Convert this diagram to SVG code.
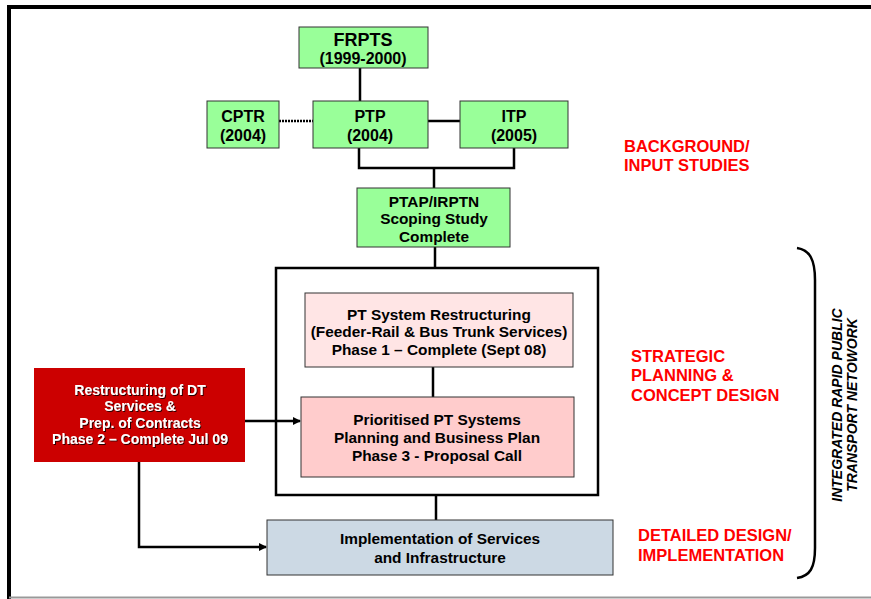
<svg xmlns="http://www.w3.org/2000/svg" width="871" height="599" viewBox="0 0 871 599">
<style>
text{font-family:"Liberation Sans",Arial,sans-serif;font-weight:bold;text-anchor:middle}
.g{fill:#99FF99;stroke:#333;stroke-width:1}
.c{fill:none;stroke:#000;stroke-width:2.5}
.t{font-size:16px;fill:#000}
.s{font-size:15.4px;fill:#000}
.w{font-size:14px;fill:#fff}
.r{font-size:16.5px;fill:#FF0000;text-anchor:start}
.v{font-size:14px;font-style:italic;fill:#000}
</style>
<defs>
<marker id="ah" markerWidth="8" markerHeight="8" refX="7" refY="4" orient="auto" markerUnits="userSpaceOnUse">
<path d="M0,0 L8,4 L0,8 Z" fill="#000"/>
</marker>
<filter id="sh" x="-10%" y="-10%" width="120%" height="130%">
<feDropShadow dx="1" dy="1" stdDeviation="0.4" flood-color="#000" flood-opacity="0.8"/>
</filter>
</defs>
<rect width="871" height="599" fill="#fff"/>
<g id="frame">
<line x1="7" y1="7" x2="871" y2="7" stroke="#000" stroke-width="4"/>
<line x1="9" y1="5" x2="9" y2="599" stroke="#000" stroke-width="4"/>
<line x1="9" y1="597.5" x2="871" y2="597.5" stroke="#999" stroke-width="2"/>
</g>
<g id="connectors">
<line class="c" x1="360" y1="68" x2="360" y2="101"/>
<line x1="279" y1="121" x2="313" y2="121" stroke="#000" stroke-width="2.5" stroke-dasharray="2 1"/>
<line class="c" x1="428" y1="121" x2="460" y2="121"/>
<polyline class="c" points="359,148 359,168 514,168 514,148"/>
<line class="c" x1="434" y1="168" x2="434" y2="188"/>
<line class="c" x1="435" y1="247" x2="435" y2="268"/>
<line class="c" x1="433" y1="367" x2="433" y2="397"/>
<line class="c" x1="436" y1="495" x2="436" y2="520"/>
<line class="c" x1="245" y1="421" x2="300" y2="421" marker-end="url(#ah)"/>
<polyline class="c" points="139,462 139,547 266,547" marker-end="url(#ah)"/>
</g>
<g id="frpts">
<rect class="g" x="299" y="27" width="129" height="41"/>
<text x="363" y="46" font-size="18">FRPTS</text>
<text x="363" y="64" font-size="16">(1999-2000)</text>
</g>
<g id="cptr">
<rect class="g" x="207" y="101" width="72" height="47"/>
<text class="t" x="243" y="122">CPTR</text>
<text class="t" x="243" y="141">(2004)</text>
</g>
<g id="ptp">
<rect class="g" x="313" y="101" width="115" height="47"/>
<text class="t" x="370" y="122">PTP</text>
<text class="t" x="370" y="141">(2004)</text>
</g>
<g id="itp">
<rect class="g" x="460" y="101" width="108" height="47"/>
<text class="t" x="514" y="122">ITP</text>
<text class="t" x="514" y="141">(2005)</text>
</g>
<g id="ptap">
<rect class="g" x="357" y="188" width="153" height="59"/>
<text class="s" x="434" y="207">PTAP/IRPTN</text>
<text class="s" x="434" y="224">Scoping Study</text>
<text class="s" x="434" y="242">Complete</text>
</g>
<g id="strategic-box">
<rect x="276" y="268" width="322" height="227" fill="none" stroke="#000" stroke-width="2.5"/>
</g>
<g id="phase1">
<rect x="305" y="293" width="268" height="74" fill="#FFE5E5" stroke="#333" stroke-width="1"/>
<text class="s" x="439" y="320">PT System Restructuring</text>
<text class="s" x="439" y="337">(Feeder-Rail &amp; Bus Trunk Services)</text>
<text class="s" x="439" y="355">Phase 1 – Complete (Sept 08)</text>
</g>
<g id="phase3">
<rect x="301" y="397" width="273" height="80" fill="#FFCCCC" stroke="#333" stroke-width="1"/>
<text class="s" x="437" y="425">Prioritised PT Systems</text>
<text class="s" x="437" y="443">Planning and Business Plan</text>
<text class="s" x="437" y="461">Phase 3 - Proposal Call</text>
</g>
<g id="phase2">
<rect x="34" y="368" width="211" height="94" fill="#CC0000"/>
<g filter="url(#sh)">
<text class="w" x="140" y="395">Restructuring of DT</text>
<text class="w" x="140" y="411">Services &amp;</text>
<text class="w" x="140" y="428">Prep. of Contracts</text>
<text class="w" x="140" y="444">Phase 2 – Complete Jul 09</text>
</g>
</g>
<g id="implementation">
<rect x="267" y="520" width="346" height="55" fill="#CCD9E4" stroke="#333" stroke-width="1"/>
<text class="s" x="440" y="544">Implementation of Services</text>
<text class="s" x="440" y="563">and Infrastructure</text>
</g>
<g id="labels">
<text class="r" x="624" y="152">BACKGROUND/</text>
<text class="r" x="624" y="171">INPUT STUDIES</text>
<text class="r" x="631" y="362">STRATEGIC</text>
<text class="r" x="631" y="381">PLANNING &amp;</text>
<text class="r" x="631" y="401">CONCEPT DESIGN</text>
<text class="r" x="638" y="541">DETAILED DESIGN/</text>
<text class="r" x="638" y="561">IMPLEMENTATION</text>
</g>
<g id="brace">
<path d="M797,248 C810,250 815,260 815,280 L815,548 C815,568 810,576 797,578" fill="none" stroke="#000" stroke-width="2.5"/>
<text class="v" transform="translate(842,405) rotate(-90)">INTEGRATED RAPID PUBLIC</text>
<text class="v" transform="translate(857,405) rotate(-90)">TRANSPORT NETOWORK</text>
</g>
</svg>
